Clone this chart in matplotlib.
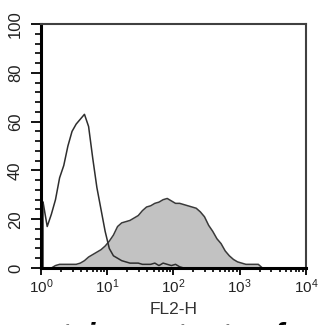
import numpy as np
import matplotlib
matplotlib.use("Agg")
import matplotlib.pyplot as plt
from matplotlib.ticker import LogLocator, MultipleLocator, FixedLocator

plt.rcParams['font.family'] = ['Liberation Sans', 'DejaVu Sans']
plt.rcParams['mathtext.fontset'] = 'custom'
plt.rcParams['mathtext.rm'] = 'Liberation Sans'
plt.rcParams['mathtext.it'] = 'Liberation Sans:italic'
plt.rcParams['mathtext.bf'] = 'Liberation Sans:bold'

# channel bins: 64 bins over 4 decades (FL2-H)
n_bins = 64
decades = 4

# isotype control (open histogram), counts per bin
control_counts = [27, 17, 22, 28, 37, 42, 50, 56, 59, 61,
                  63, 58, 45, 33, 24, 15, 8, 5, 4, 3,
                  2.5, 2, 2, 2, 1.5, 1.5, 1.5, 2, 1, 2,
                  1.5, 1, 1.5, 0.5] + [0] * 30

# stained sample (filled histogram), counts per bin
stained_counts = [0, 0, 0, 1, 1.5, 1.5, 1.5, 1.5, 1.5, 2,
                  3, 4.5, 5.5, 6.5, 7.5, 9, 11, 13.5, 17, 18.5,
                  19, 19.5, 20.5, 21.5, 23.5, 25, 25.5, 26.5, 27, 28,
                  28.5, 27.5, 26.5, 26.5, 26, 25.5, 25, 24.5, 23, 21,
                  17.5, 15, 12, 10, 7, 5, 3.5, 2.5, 2, 1.5,
                  1.5, 1.5, 1.5] + [0] * 11

y_ticks = [0, 20, 40, 60, 80, 100]
x_ticks = [1, 10, 100, 1000, 10000]
x_tick_labels = [r'$10^0$', r'$10^1$', r'$10^2$', r'$10^3$', r'$10^4$']
x_label = "FL2-H"
caption = "protein contents of"

centers = 10 ** ((np.arange(n_bins) + 0.5) * decades / n_bins)

fig = plt.figure(figsize=(3.21, 3.25), dpi=100)
ax = fig.add_axes([0.1277, 0.1754, 0.8253, 0.7506])

ax.fill_between(centers, stained_counts, 0, color='#c2c2c2', linewidth=0)
ax.plot(centers, stained_counts, color='#3a3a3a', linewidth=1.1)
ax.plot(centers, control_counts, color='#2e2e2e', linewidth=1.1)
# left edge of the first control bin
ax.vlines(centers[0], 0, control_counts[0], color='#2e2e2e', linewidth=1.1)

ax.set_xscale('log')
ax.set_xlim(1, 1e4)
ax.set_ylim(0, 100)

ax.xaxis.set_major_locator(FixedLocator(x_ticks))
ax.set_xticklabels(x_tick_labels)
ax.xaxis.set_minor_locator(LogLocator(base=10, subs=np.arange(2, 10)))
ax.yaxis.set_major_locator(FixedLocator(y_ticks))
ax.yaxis.set_minor_locator(MultipleLocator(4))

ax.tick_params(axis='x', which='major', direction='out', length=5, width=1.3,
               labelsize=11, pad=2, colors='black')
ax.tick_params(axis='x', which='minor', direction='out', length=3, width=1.2)
ax.tick_params(axis='y', which='major', direction='out', length=7, width=1.3,
               labelsize=12, pad=6, labelrotation=90)
ax.tick_params(axis='y', which='minor', direction='out', length=4, width=1.2)
for lab in ax.get_yticklabels():
    lab.set_va('center')
    lab.set_color('#222222')
for lab in ax.get_xticklabels():
    lab.set_color('#222222')

ax.spines['left'].set_linewidth(2.2)
ax.spines['bottom'].set_linewidth(2.2)
ax.spines['left'].set_color('black')
ax.spines['bottom'].set_color('black')
ax.spines['top'].set_linewidth(1.5)
ax.spines['right'].set_linewidth(1.5)
ax.spines['top'].set_color('#404040')
ax.spines['right'].set_color('#404040')

ax.set_xlabel(x_label, fontsize=12.5, color='#333333', labelpad=4)

# caption below the figure, only the top of its letters is visible
fig.text(0.04, -0.058, caption, fontsize=21.6, fontweight='bold',
         fontstyle='italic', ha='left', va='baseline', color='black')

fig.savefig("out.png", dpi=100)
